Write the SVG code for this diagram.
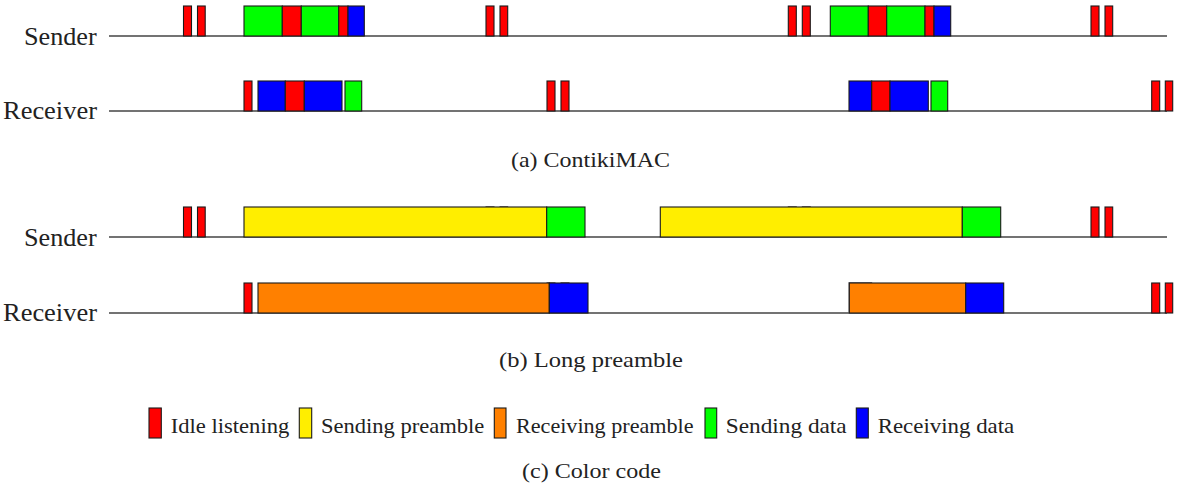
<svg xmlns="http://www.w3.org/2000/svg" width="1182" height="487" viewBox="0 0 1182 487">
<style>
.t{font-family:"Liberation Serif","Times New Roman",serif;fill:#222}
.lab{font-size:25px}
.cap{font-size:22px}
.leg{font-size:21px}
.ax{stroke:#444;stroke-width:1.3}
.bar{stroke:#1a1a1a;stroke-width:1.1}
.hid{stroke:#777;stroke-width:1}
.r{fill:#ff0000}.g{fill:#00ff00}.b{fill:#0000ff}.y{fill:#ffee00}.o{fill:#ff8000}
</style>
<rect width="1182" height="487" fill="#fff"/>
<g id="axes">
<line class="ax" x1="109" y1="36" x2="1167" y2="36"/>
<line class="ax" x1="109" y1="111" x2="1167" y2="111"/>
<line class="ax" x1="109" y1="237" x2="1167" y2="237"/>
<line class="ax" x1="109" y1="313" x2="1167" y2="313"/>
</g>
<g id="labels">
<text class="t lab" x="24" y="45" textLength="72.7" lengthAdjust="spacingAndGlyphs">Sender</text>
<text class="t lab" x="3" y="119" textLength="94" lengthAdjust="spacingAndGlyphs">Receiver</text>
<text class="t lab" x="24" y="246" textLength="72.7" lengthAdjust="spacingAndGlyphs">Sender</text>
<text class="t lab" x="3" y="321" textLength="94" lengthAdjust="spacingAndGlyphs">Receiver</text>
</g>
<g id="contiki-sender" class="bar">
<rect class="r" x="183.5" y="6" width="8" height="30"/>
<rect class="r" x="197.5" y="6" width="7.7" height="30"/>
<rect class="g" x="244" y="6" width="38.3" height="30"/>
<rect class="r" x="282.3" y="6" width="19" height="30"/>
<rect class="g" x="301.3" y="6" width="37.4" height="30"/>
<rect class="r" x="338.7" y="6" width="9.3" height="30"/>
<rect class="b" x="348" y="6" width="16.3" height="30"/>
<rect class="r" x="486" y="6" width="8" height="30"/>
<rect class="r" x="500" y="6" width="7.7" height="30"/>
<rect class="r" x="788.3" y="6" width="8" height="30"/>
<rect class="r" x="802.3" y="6" width="8" height="30"/>
<rect class="g" x="830.3" y="6" width="38" height="30"/>
<rect class="r" x="868.3" y="6" width="18.4" height="30"/>
<rect class="g" x="886.7" y="6" width="38.3" height="30"/>
<rect class="r" x="925" y="6" width="9" height="30"/>
<rect class="b" x="934" y="6" width="16.7" height="30"/>
<rect class="r" x="1091" y="6" width="8" height="30"/>
<rect class="r" x="1105" y="6" width="7.7" height="30"/>
</g>
<g id="contiki-receiver" class="bar">
<rect class="r" x="244" y="81" width="8" height="30"/>
<rect class="b" x="258" y="81" width="27.3" height="30"/>
<rect class="r" x="285.3" y="81" width="19" height="30"/>
<rect class="b" x="304.3" y="81" width="37.7" height="30"/>
<rect class="g" x="345" y="81" width="16.7" height="30"/>
<rect class="r" x="547" y="81" width="8" height="30"/>
<rect class="r" x="561" y="81" width="8" height="30"/>
<rect class="b" x="849" y="81" width="22.7" height="30"/>
<rect class="r" x="871.7" y="81" width="18.3" height="30"/>
<rect class="b" x="890" y="81" width="38.3" height="30"/>
<rect class="g" x="931" y="81" width="16.7" height="30"/>
<rect class="r" x="1151.7" y="81" width="8" height="30"/>
<rect class="r" x="1165.3" y="81" width="7.4" height="30"/>
</g>
<text id="cap-a" class="t cap" x="511" y="167" textLength="159" lengthAdjust="spacingAndGlyphs">(a) ContikiMAC</text>
<g id="long-sender" class="bar">
<rect class="r" x="183.5" y="207" width="8" height="30"/>
<rect class="r" x="197.5" y="207" width="7.7" height="30"/>
<rect class="r hid" x="486" y="206.6" width="8" height="30"/>
<rect class="r hid" x="500" y="206.6" width="7.7" height="30"/>
<rect class="y" x="244" y="207" width="302.7" height="30"/>
<rect class="g" x="546.7" y="207" width="38.3" height="30"/>
<rect class="r hid" x="788.3" y="206.6" width="8" height="30"/>
<rect class="r hid" x="802.3" y="206.6" width="8" height="30"/>
<rect class="y" x="660.3" y="207" width="302" height="30"/>
<rect class="g" x="962.3" y="207" width="38.4" height="30"/>
<rect class="r" x="1091" y="207" width="8" height="30"/>
<rect class="r" x="1105" y="207" width="7.7" height="30"/>
</g>
<g id="long-receiver" class="bar">
<rect class="r" x="244" y="283" width="8" height="30"/>
<rect class="r hid" x="547" y="282.6" width="8" height="30"/>
<rect class="r hid" x="561" y="282.6" width="8" height="30"/>
<rect class="o" x="258" y="283" width="291.3" height="30"/>
<rect class="b" x="549.3" y="283" width="38.7" height="30"/>
<rect class="b hid" x="849" y="282.6" width="22.7" height="30"/>
<rect class="o" x="849.3" y="283" width="116.4" height="30"/>
<rect class="b" x="965.7" y="283" width="38" height="30"/>
<rect class="r" x="1151.7" y="283" width="8" height="30"/>
<rect class="r" x="1165.3" y="283" width="7.4" height="30"/>
</g>
<text id="cap-b" class="t cap" x="499" y="367" textLength="184" lengthAdjust="spacingAndGlyphs">(b) Long preamble</text>
<g id="legend" class="bar">
<g id="leg-idle"><rect class="r" x="149" y="408" width="12.3" height="30"/><text class="t leg" stroke="none" x="170.7" y="433" textLength="118.6" lengthAdjust="spacingAndGlyphs">Idle listening</text></g>
<g id="leg-sendpre"><rect class="y" x="299.3" y="408" width="12.4" height="30"/><text class="t leg" stroke="none" x="321" y="433" textLength="163.3" lengthAdjust="spacingAndGlyphs">Sending preamble</text></g>
<g id="leg-recvpre"><rect class="o" x="494.3" y="408" width="11.7" height="30"/><text class="t leg" stroke="none" x="516" y="433" textLength="177.5" lengthAdjust="spacingAndGlyphs">Receiving preamble</text></g>
<g id="leg-senddata"><rect class="g" x="705" y="408" width="11.7" height="30"/><text class="t leg" stroke="none" x="725.7" y="433" textLength="121" lengthAdjust="spacingAndGlyphs">Sending data</text></g>
<g id="leg-recvdata"><rect class="b" x="856.3" y="408" width="12" height="30"/><text class="t leg" stroke="none" x="877.7" y="433" textLength="136.6" lengthAdjust="spacingAndGlyphs">Receiving data</text></g>
</g>
<text id="cap-c" class="t cap" x="522" y="478" textLength="139" lengthAdjust="spacingAndGlyphs">(c) Color code</text>
</svg>
